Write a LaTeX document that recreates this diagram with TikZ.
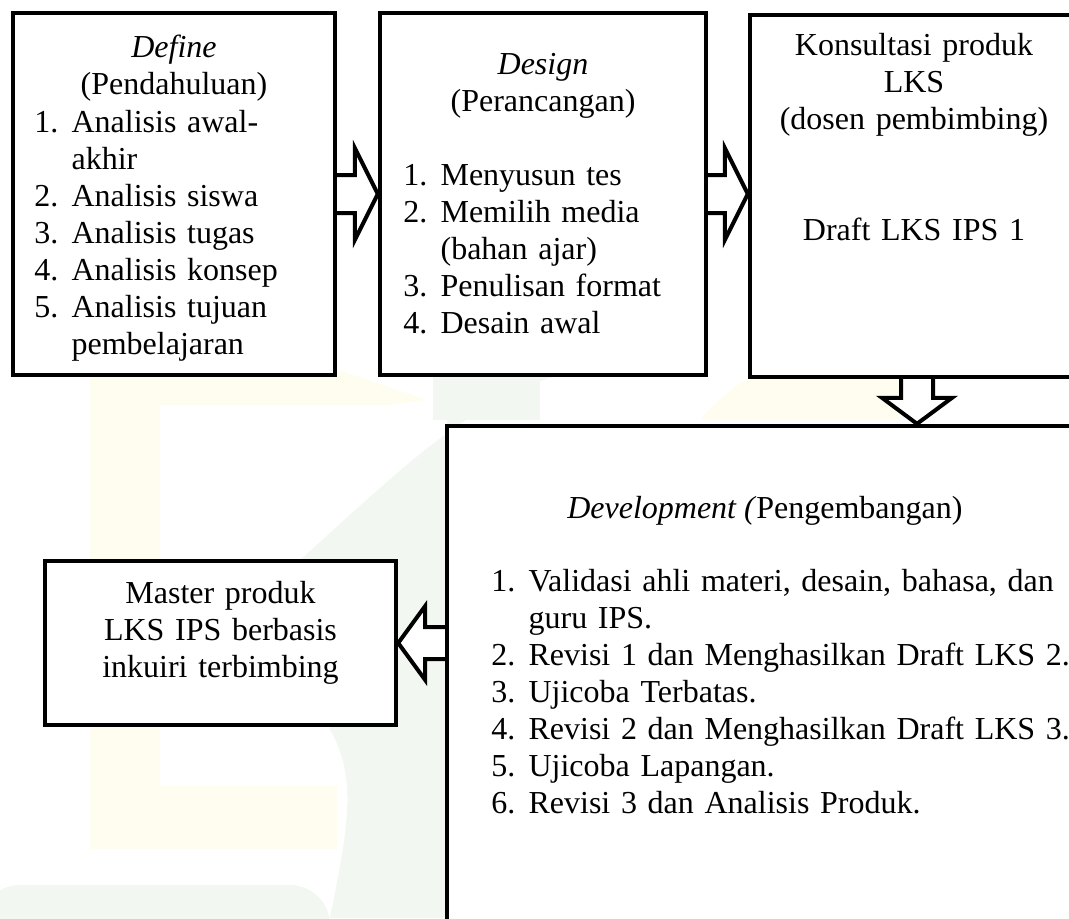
\documentclass[tikz,border=0pt]{standalone}
\usepackage{fontspec}
\setmainfont{Liberation Serif}
\usetikzlibrary{calc}

\definecolor{wmyellow}{HTML}{FFFDEF}
\definecolor{wmgreen}{HTML}{F2F7F1}

\newcommand{\itm}[1]{\makebox[28pt][l]{#1}}
\newcommand{\cnt}{\hspace*{28pt}}

\tikzset{
  stage/.style={draw, line width=3.3pt, rectangle, inner sep=0pt, fill=white},
  txt/.style={inner sep=0pt, font=\fontsize{24}{27.75}\selectfont},
  fat/.style n args={3}{draw, line width=3pt, fill=white, line join=miter,
    to path={
      ($(\tikztostart)!#1!90:(\tikztotarget)$)
      -- ($($(\tikztotarget)!#3!(\tikztostart)$)!#1!-90:(\tikztostart)$)
      -- ($($(\tikztotarget)!#3!(\tikztostart)$)!#2!-90:(\tikztostart)$)
      -- (\tikztotarget)
      -- ($($(\tikztotarget)!#3!(\tikztostart)$)!#2!90:(\tikztostart)$)
      -- ($($(\tikztotarget)!#3!(\tikztostart)$)!#1!90:(\tikztostart)$)
      -- ($(\tikztostart)!#1!-90:(\tikztotarget)$)
    }}
}

\begin{document}
\begin{tikzpicture}[x=0.75pt,y=-0.75pt]
\useasboundingbox (0,0) rectangle (1069,918);
\clip (0,0) rectangle (1069,918);

% watermark
\fill[wmyellow] (90,367) -- (330,367) -- (427,400) -- (390,405) -- (160,405) -- (160,786)
  -- (337,786) -- (337,849) -- (90,849) -- cycle;
\fill[wmyellow] (700,420) .. controls (760,350) and (840,340) .. (900,345) -- (900,420) -- cycle;
\fill[wmgreen] (560,375) .. controls (470,400) and (400,470) .. (300,560) -- (330,730)
  .. controls (360,780) and (345,840) .. (330,918) -- (447,918) -- (447,375) -- cycle;
\fill[wmgreen] (433,375) rectangle (540,420);
\fill[wmgreen, rounded corners=30] (-20,885) rectangle (330,960);

% boxes
\node[stage, minimum width=241.5pt, minimum height=271.5pt] (define) at (174,194) {};
\node[stage, minimum width=244.5pt, minimum height=271.5pt] (design) at (543,194) {};
\node[stage, minimum width=250.5pt, minimum height=271.5pt] (konsul) at (917,196) {};
\node[stage, minimum width=472.5pt, minimum height=430.5pt] (devel) at (762,713) {};
\node[stage, minimum width=263.25pt, minimum height=123pt] (master) at (220.5,643) {};

% arrows
\draw[fat={14.25pt}{34.5pt}{17.25pt}] (define.east) to (design.west);
\draw[fat={14.25pt}{34.5pt}{17.25pt}] (design.east) to (design.east -| konsul.west);
\draw[fat={12pt}{26.25pt}{19.5pt}] (konsul.south) to (konsul.south |- devel.north);
\draw[fat={12pt}{27.75pt}{20.25pt}] (master.east -| devel.west) to (master.east);

% texts
\node[txt, text width=240pt, align=center, anchor=base] (define-head) at (174,57)
  {\textit{Define}\\(Pendahuluan)};
\node[txt, text width=230pt, align=left, anchor=base west] (define-list) at (34,132)
  {\itm{1.}Analisis awal-\\\cnt akhir\\\itm{2.}Analisis siswa\\\itm{3.}Analisis tugas\\
   \itm{4.}Analisis konsep\\\itm{5.}Analisis tujuan\\\cnt pembelajaran};

\node[txt, text width=240pt, align=center, anchor=base] (design-head) at (543,74)
  {\textit{Design}\\(Perancangan)};
\node[txt, text width=240pt, align=left, anchor=base west] (design-list) at (403,185)
  {\itm{1.}Menyusun tes\\\itm{2.}Memilih media\\\cnt (bahan ajar)\\
   \itm{3.}Penulisan format\\\itm{4.}Desain awal};

\node[txt, text width=250pt, align=center, anchor=base] (konsul-head) at (914,55)
  {Konsultasi produk\\LKS\\(dosen pembimbing)};
\node[txt, text width=250pt, align=center, anchor=base] (konsul-draft) at (914,240)
  {Draft LKS IPS 1};

\node[txt, text width=260pt, align=center, anchor=base] (master-txt) at (220.5,603)
  {Master produk\\LKS IPS berbasis\\inkuiri terbimbing};

\node[txt, anchor=base west] (devel-head) at (567,518)
  {\textit{Development (}Pengembangan)};
\node[txt, text width=440pt, align=left, anchor=base west] (devel-list) at (491,591)
  {\itm{1.}Validasi ahli materi, desain, bahasa, dan\\\cnt guru IPS.\\
   \itm{2.}Revisi 1 dan Menghasilkan Draft LKS 2.\\\itm{3.}Ujicoba Terbatas.\\
   \itm{4.}Revisi 2 dan Menghasilkan Draft LKS 3.\\\itm{5.}Ujicoba Lapangan.\\
   \itm{6.}Revisi 3 dan Analisis Produk.};

\end{tikzpicture}
\end{document}
